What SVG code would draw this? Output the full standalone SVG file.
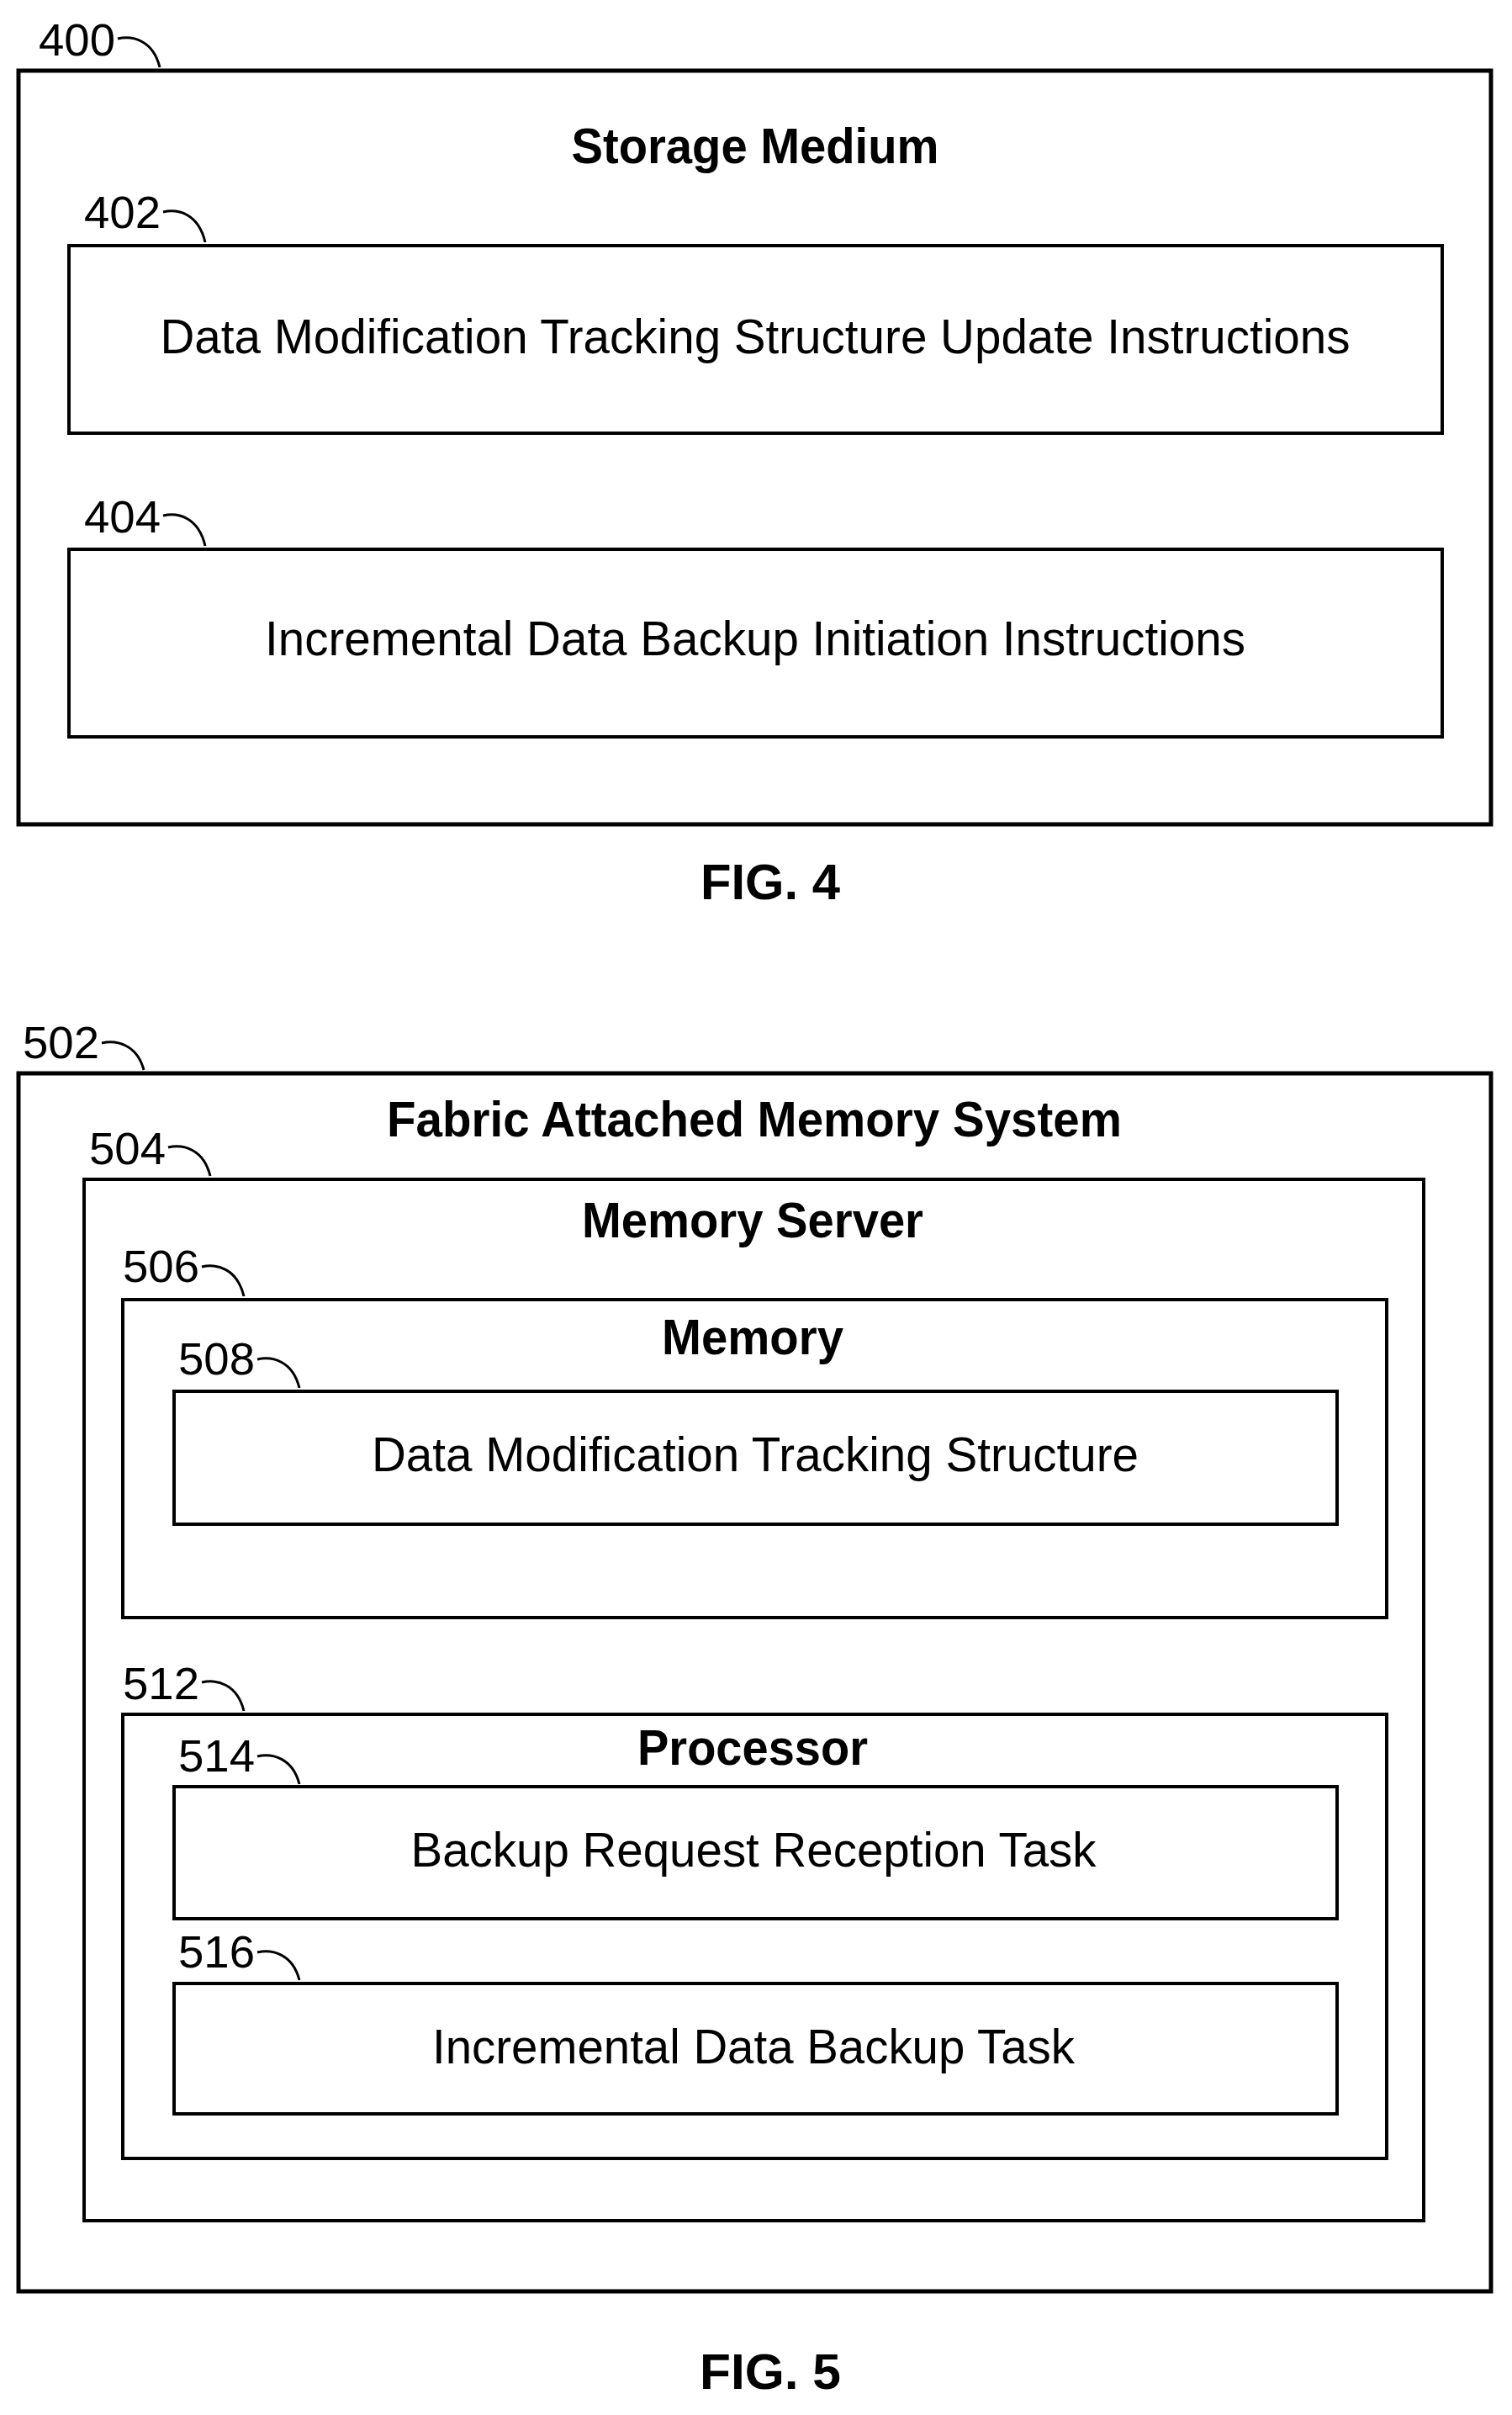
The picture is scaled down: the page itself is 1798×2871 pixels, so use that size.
<svg xmlns="http://www.w3.org/2000/svg" width="1798" height="2871" viewBox="0 0 1798 2871">
<style>
.b{fill:none;stroke:#000;stroke-width:4}
.o{fill:none;stroke:#000;stroke-width:5}
.t{font-family:"Liberation Sans",Arial,sans-serif;font-size:58px;text-anchor:middle;fill:#000}
.h{font-family:"Liberation Sans",Arial,sans-serif;font-size:60px;font-weight:bold;text-anchor:middle;fill:#000}
.n{font-family:"Liberation Sans",Arial,sans-serif;font-size:54px;fill:#000}
.c{fill:none;stroke:#000;stroke-width:3}
</style>
<rect width="1798" height="2871" fill="#fff"/>
<g id="n400"><rect class="o" x="22" y="84" width="1751" height="896"/>
<text class="n" x="46" y="66" textLength="91" lengthAdjust="spacingAndGlyphs">400</text><path class="c" d="M140,46 c18,-4 42,2 50,34"/>
<text class="h" x="898" y="194" textLength="437" lengthAdjust="spacingAndGlyphs">Storage Medium</text></g>
<g id="n402"><rect class="b" x="82" y="292" width="1633" height="223"/>
<text class="n" x="100" y="271" textLength="91" lengthAdjust="spacingAndGlyphs">402</text><path class="c" d="M194,252 c18,-4 42,2 50,36"/>
<text class="t" x="898" y="420" textLength="1415" lengthAdjust="spacingAndGlyphs">Data Modification Tracking Structure Update Instructions</text></g>
<g id="n404"><rect class="b" x="82" y="653" width="1633" height="223"/>
<text class="n" x="100" y="633" textLength="91" lengthAdjust="spacingAndGlyphs">404</text><path class="c" d="M194,613 c18,-4 42,2 50,36"/>
<text class="t" x="898" y="779" textLength="1166" lengthAdjust="spacingAndGlyphs">Incremental Data Backup Initiation Instructions</text></g>
<text class="h" x="916" y="1069" textLength="166" lengthAdjust="spacingAndGlyphs">FIG. 4</text>
<g id="n502"><rect class="o" x="22" y="1276" width="1751" height="1448"/>
<text class="n" x="27" y="1258" textLength="91" lengthAdjust="spacingAndGlyphs">502</text><path class="c" d="M121,1240 c18,-4 42,2 50,32"/>
<text class="h" x="897" y="1351" textLength="874" lengthAdjust="spacingAndGlyphs">Fabric Attached Memory System</text></g>
<g id="n504"><rect class="b" x="100" y="1402" width="1593" height="1238"/>
<text class="n" x="106" y="1384" textLength="91" lengthAdjust="spacingAndGlyphs">504</text><path class="c" d="M200,1364 c18,-4 42,2 50,34"/>
<text class="h" x="895" y="1471" textLength="406" lengthAdjust="spacingAndGlyphs">Memory Server</text></g>
<g id="n506"><rect class="b" x="146" y="1545" width="1503" height="378"/>
<text class="n" x="146" y="1524" textLength="91" lengthAdjust="spacingAndGlyphs">506</text><path class="c" d="M240,1506 c18,-4 42,2 50,35"/>
<text class="h" x="895" y="1610" textLength="216" lengthAdjust="spacingAndGlyphs">Memory</text></g>
<g id="n508"><rect class="b" x="207" y="1654" width="1383" height="158"/>
<text class="n" x="212" y="1634" textLength="91" lengthAdjust="spacingAndGlyphs">508</text><path class="c" d="M306,1616 c18,-4 42,2 50,34"/>
<text class="t" x="898" y="1749" textLength="912" lengthAdjust="spacingAndGlyphs">Data Modification Tracking Structure</text></g>
<g id="n512"><rect class="b" x="146" y="2038" width="1503" height="528"/>
<text class="n" x="146" y="2020" textLength="91" lengthAdjust="spacingAndGlyphs">512</text><path class="c" d="M240,2000 c18,-4 42,2 50,34"/>
<text class="h" x="895" y="2098" textLength="274" lengthAdjust="spacingAndGlyphs">Processor</text></g>
<g id="n514"><rect class="b" x="207" y="2124" width="1383" height="157"/>
<text class="n" x="212" y="2106" textLength="91" lengthAdjust="spacingAndGlyphs">514</text><path class="c" d="M306,2088 c18,-4 42,2 50,33"/>
<text class="t" x="896" y="2219" textLength="815" lengthAdjust="spacingAndGlyphs">Backup Request Reception Task</text></g>
<g id="n516"><rect class="b" x="207" y="2358" width="1383" height="155"/>
<text class="n" x="212" y="2339" textLength="91" lengthAdjust="spacingAndGlyphs">516</text><path class="c" d="M306,2321 c18,-4 42,2 50,33"/>
<text class="t" x="896" y="2453" textLength="764" lengthAdjust="spacingAndGlyphs">Incremental Data Backup Task</text></g>
<text class="h" x="916" y="2840" textLength="168" lengthAdjust="spacingAndGlyphs">FIG. 5</text>
<g id="connectors"/>
</svg>
